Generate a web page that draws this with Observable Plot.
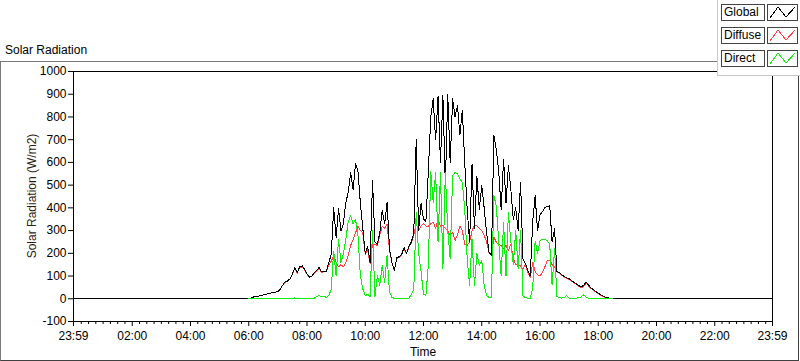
<!DOCTYPE html>
<html><head><meta charset="utf-8">
<script src="https://cdn.jsdelivr.net/npm/d3@7"></script>
<script src="https://cdn.jsdelivr.net/npm/@observablehq/plot@0.6"></script>
<style>
html,body{margin:0;padding:0;background:#fff;}
#wrap{position:relative;width:800px;height:361px;overflow:hidden;font-family:"Liberation Sans",Arial,sans-serif;color:#000;}
#frame{position:absolute;left:0;top:61px;width:797px;height:298px;border-left:1px solid #7a7a7a;border-top:1px solid #7a7a7a;border-right:1px solid #404040;border-bottom:1px solid #404040;}
#title{position:absolute;left:5px;top:43px;font-size:12px;line-height:14px;white-space:nowrap;}
#chart{position:absolute;left:0;top:61px;}
#ytitle{position:absolute;left:32px;top:196px;font-size:12px;line-height:14px;white-space:nowrap;color:#2b1d14;transform:translate(-50%,-50%) rotate(-90deg);}
#xtitle{position:absolute;left:373px;width:100px;text-align:center;top:345px;font-size:12px;line-height:14px;}
#legend{position:absolute;left:717px;top:0;width:83px;height:76px;background:#fff;border-left:1px solid #c8c8c8;border-bottom:1px solid #c8c8c8;box-sizing:border-box;}
.lab{position:absolute;left:3px;width:40px;height:15px;border:1px solid #444;font-size:12px;line-height:15px;padding-left:2px;background:#fff;}
.ico{position:absolute;left:49px;width:29px;height:15px;border:1px solid #444;background:#fff;}
.ico svg{position:absolute;left:0;top:0;}
</style></head>
<body>
<div id="wrap">
  <div id="frame"></div>
  <div id="title">Solar Radiation</div>
  <div id="chart"></div>
  <div id="ytitle">Solar Radiation (W/m2)</div>
  <div id="xtitle">Time</div>
  <div id="legend"></div>
</div>
<script>
// time grid (minutes after midnight), 5-minute samples from 06:00
const startMin = 360;
const stepMin = 5;

// Global radiation (W/m2), 06:00 .. 18:50
const globalVals = [
  0,3,8,10,12,14,17,20,22,25,27,29,
  31,42,60,75,78,88,110,138,115,140,145,130,
  110,95,100,115,125,138,118,122,120,160,195,400,
  270,396,300,330,424,468,556,480,597,560,420,310,
  200,230,160,520,250,240,290,390,330,424,220,160,
  125,180,185,195,225,200,230,250,290,700,300,420,
  350,340,560,800,880,700,890,600,895,500,900,600,
  880,800,850,720,830,600,394,250,592,310,540,394,
  497,400,290,205,191,717,658,560,394,614,420,585,
  480,350,400,300,512,176,155,125,100,340,453,300,
  369,383,402,405,410,250,307,120,116,105,98,92,
  88,80,72,65,58,52,60,73,60,48,40,32,
  24,18,12,7,4,2,0,0,0,0,0
];

// Diffuse radiation (W/m2), 06:00 .. 18:50
const diffuseVals = [
  0,3,8,10,12,14,17,20,22,25,27,29,
  31,42,60,72,76,86,108,135,113,138,140,128,
  108,94,99,112,120,132,116,120,118,150,165,190,
  160,140,150,140,160,190,235,260,290,320,300,290,
  195,215,155,240,240,235,280,320,310,330,215,158,
  123,178,183,193,222,198,228,245,280,330,300,320,
  330,320,320,330,337,310,350,320,321,310,300,280,
  293,257,280,320,300,240,235,249,300,323,320,310,
  300,280,250,203,189,271,249,240,235,220,235,213,
  240,180,150,150,145,130,150,116,95,160,120,105,
  100,115,140,170,170,150,140,118,114,103,96,90,
  86,78,70,63,55,48,55,68,57,46,38,30,
  22,16,10,6,3,1,0,0,0,0,0
];

// Direct radiation (W/m2), 06:00 .. 18:30
const directVals = [
  0,0,0,0,0,0,0,0,0,0,0,0,
  0,0,0,0,0,0,0,4,0,0,0,0,
  0,0,0,2,10,14,8,12,5,15,40,210,
  100,262,160,200,262,340,365,330,350,279,101,43,
  13,20,10,300,10,101,60,147,72,191,30,6,
  2,0,0,0,0,2,2,20,40,380,200,120,
  20,15,150,560,424,556,249,556,132,556,300,176,
  541,556,550,527,512,394,176,58,264,58,200,147,
  170,60,13,6,6,453,409,250,100,337,100,380,
  250,150,300,132,300,13,5,2,0,50,255,200,
  255,262,262,255,240,60,220,10,5,3,5,15,
  3,2,2,3,4,8,18,6,3,2,2,1,
  0,0,0,0,0,0,0
];

const dayStart = -1;   // 23:59 of previous day
const dayEnd = 1439;   // 23:59
const yTicks = [-100,0,100,200,300,400,500,600,700,800,900,1000];
const majorTicks = [-1,120,240,360,480,600,720,840,960,1080,1200,1320,1439];
const minorTicks = d3.range(15, 1439, 15).filter(t => t % 120 !== 0);

const seriesNames = ["Global", "Diffuse", "Direct"];
const seriesColors = ["#000000", "#ff4040", "#10ee10"];

function build(vals, withNight) {
  const pts = vals.map((v, i) => ({t: startMin + i * stepMin, v}));
  if (withNight) {
    pts.unshift({t: dayStart, v: 0});
    pts.push({t: dayEnd, v: 0});
  }
  return pts;
}
const globalData = build(globalVals, true);
const diffuseData = build(diffuseVals, true);
const directData = build(directVals, false);

const fmt = t => {
  if (t < 0 || t >= 1439) return "23:59";
  const h = Math.floor(t / 60), m = t % 60;
  return String(h).padStart(2, "0") + ":" + String(m).padStart(2, "0");
};

const chart = Plot.plot({
  width: 800,
  height: 300,
  marginTop: 10,
  marginBottom: 40,
  marginLeft: 73,
  marginRight: 28,
  style: {fontFamily: '"Liberation Sans", Arial, sans-serif', fontSize: "12px", background: "transparent", color: "#000"},
  x: {domain: [dayStart, dayEnd]},
  y: {domain: [-100, 1000]},
  marks: [
    Plot.line(diffuseData, {x: "t", y: "v", stroke: seriesColors[1], strokeWidth: 1, shapeRendering: "crispEdges"}),
    Plot.line(globalData, {x: "t", y: "v", stroke: seriesColors[0], strokeWidth: 1, shapeRendering: "crispEdges"}),
    Plot.line(directData, {x: "t", y: "v", stroke: seriesColors[2], strokeWidth: 1, shapeRendering: "crispEdges"}),
    Plot.frame({stroke: "#000", shapeRendering: "crispEdges"}),
    Plot.axisY({ticks: yTicks, tickSize: 5, tickPadding: 2, label: null, tickFormat: d => String(d)}),
    Plot.axisX({ticks: majorTicks, tickSize: 5, tickPadding: 5, label: null, tickFormat: fmt}),
    Plot.axisX({ticks: minorTicks, tickSize: 3, label: null, tickFormat: () => ""})
  ]
});
document.getElementById("chart").appendChild(chart);

// legend
const legend = document.getElementById("legend");
seriesNames.forEach((name, i) => {
  const top = 4 + i * 23;
  const lab = document.createElement("div");
  lab.className = "lab";
  lab.style.top = top + "px";
  lab.textContent = name;
  legend.appendChild(lab);
  const ico = document.createElement("div");
  ico.className = "ico";
  ico.style.top = top + "px";
  ico.innerHTML = `<svg width="29" height="15"><polyline points="2,13 10,2 18,12 27,2" fill="none" stroke="${seriesColors[i]}" stroke-width="1" shape-rendering="crispEdges"/></svg>`;
  legend.appendChild(ico);
});
</script>
</body></html>
